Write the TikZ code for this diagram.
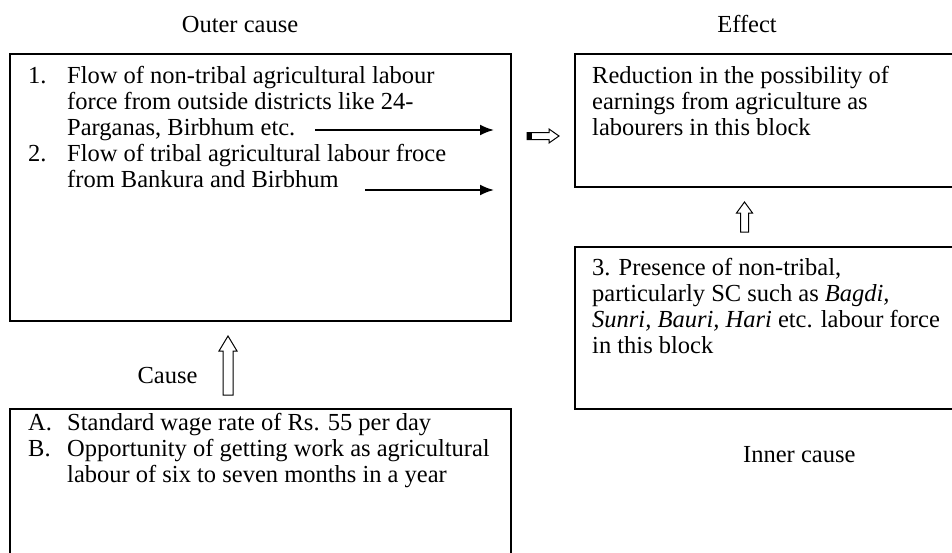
\documentclass[tikz,border=0pt]{standalone}
\usepackage{fontspec}
\setmainfont{Liberation Serif}
\usetikzlibrary{calc,arrows.meta}
\newcommand\fsz{\fontsize{24.5}{26}\selectfont}
\newcommand\ptext[1]{\parbox[t]{440pt}{\fsz #1}}
\begin{document}
\begin{tikzpicture}[x=1pt,y=-1pt,
  box/.style={draw,line width=1.3pt,inner sep=0pt,rectangle},
  txt/.style={anchor=base west,inner sep=0pt,font=\fsz},
  lbl/.style={anchor=base,inner sep=0pt,font=\fsz},
  thin arrow/.style={line width=2pt,-{Latex[length=14pt,width=11pt]}},
  hollow/.style={draw,line width=1pt,fill=white,line join=miter}]
\useasboundingbox (0,0) rectangle (952,552);
% boxes
\node[box,minimum width=501pt,minimum height=267pt] (outer) at (260.5,187.5) {};
\node[box,minimum width=380pt,minimum height=133pt] (effect) at (765,120.5) {};
\node[box,minimum width=380pt,minimum height=162pt] (inner) at (765,328) {};
\node[box,minimum width=501pt,minimum height=151pt] (cause) at (260.5,484.5) {};
% labels
\node[lbl] (louter) at (240,32) {Outer cause};
\node[lbl] (leffect) at (747,32) {Effect};
\node[lbl,anchor=base west] (linner) at (743,462) {Inner cause};
\node[lbl] (lcause) at (167.5,383) {Cause};
% box texts
\node[txt] (n1) at (28,83) {1.};
\node[txt] (t1) at (67,83) {\ptext{Flow of non-tribal agricultural labour\\force from outside districts like 24-\\Parganas, Birbhum etc.}};
\node[txt] (n2) at (28,161) {2.};
\node[txt] (t2) at (67,161) {\ptext{Flow of tribal agricultural labour froce\\from Bankura and Birbhum}};
\node[txt] (te) at (592,83) {\ptext{Reduction in the possibility of\\earnings from agriculture as\\labourers in this block}};
\node[txt] (ti) at (592,275) {\ptext{3. Presence of non-tribal,\\particularly SC such as \textit{Bagdi,}\\\textit{Sunri, Bauri, Hari} etc. labour force\\in this block}};
\node[txt] (nA) at (28,430) {A.};
\node[txt] (tA) at (67,430) {\ptext{Standard wage rate of Rs. 55 per day}};
\node[txt] (nB) at (28,456) {B.};
\node[txt] (tB) at (67,456) {\ptext{Opportunity of getting work as agricultural\\labour of six to seven months in a year}};
% thin arrows
\coordinate (a1s) at (315,130); \coordinate (a1e) at (494,130);
\coordinate (a2s) at (365,190); \coordinate (a2e) at (494,190);
\draw[thin arrow] (a1s) -- (a1e);
\draw[thin arrow] (a2s) -- (a2e);
% hollow up arrow (Cause)
\coordinate (cu) at (228,336);
\draw[hollow] (cu) -- ++(9,15) -- ++(-4,0) -- ++(0,44) -- ++(-10,0) -- ++(0,-44) -- ++(-4,0) -- cycle;
% hollow up arrow (Inner -> Effect)
\coordinate (eu) at (744.5,202);
\draw[hollow] (eu) -- ++(8,11) -- ++(-4,0) -- ++(0,19) -- ++(-8,0) -- ++(0,-19) -- ++(-4,0) -- cycle;
% hollow right arrow (Outer -> Effect)
\coordinate (ra) at (559,136);
\draw[hollow] (ra) -- ++(-10,-7) -- ++(0,3.5) -- ++(-22,0) -- ++(0,7) -- ++(22,0) -- ++(0,3.5) -- cycle;
\fill ($(ra)+(-32,-3.5)$) rectangle ($(ra)+(-27,3.5)$);
\end{tikzpicture}
\end{document}
